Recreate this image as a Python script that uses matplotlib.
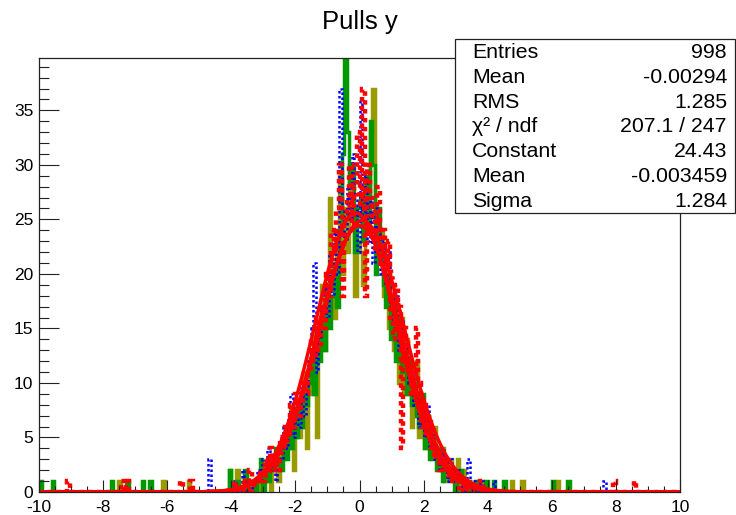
import numpy as np
import matplotlib
matplotlib.use('Agg')
import matplotlib.pyplot as plt
from matplotlib.patches import Rectangle

plt.rcParams['font.family'] = ['Liberation Sans', 'DejaVu Sans']
plt.rcParams['axes.unicode_minus'] = False

# 250 bins of width 0.08 on [-10, 10]; core counts cover [-4.0, 4.0], 10 bins per row
BIN_W = 0.08
CORE_LO = -4.0

green_core = [0, 0, 1, 0, 0, 2, 0, 1, 1, 0,
              1, 3, 0, 2, 1, 3, 2, 4, 3, 2,
              5, 3, 6, 4, 7, 5, 8, 6, 9, 8,
              10, 13, 9, 14, 12, 16, 13, 19, 15, 18,
              21, 17, 24, 31, 40, 33, 28, 30, 22, 26,
              27, 23, 29, 25, 34, 30, 20, 26, 22, 19,
              17, 20, 14, 18, 12, 16, 11, 13, 9, 12,
              8, 10, 7, 6, 9, 4, 7, 3, 5, 4,
              2, 4, 1, 3, 2, 1, 2, 0, 1, 2,
              1, 0, 1, 0, 0, 1, 0, 0, 0, 1]
olive_core = [0, 0, 2, 0, 0, 1, 0, 0, 1, 0,
              0, 1, 2, 1, 3, 0, 2, 3, 1, 4,
              3, 6, 4, 8, 2, 7, 5, 6, 11, 4,
              12, 9, 15, 5, 14, 19, 13, 17, 27, 20,
              16, 24, 29, 20, 26, 22, 30, 25, 18, 23,
              22, 19, 28, 24, 33, 37, 26, 21, 24, 18,
              20, 15, 18, 13, 17, 10, 16, 9, 14, 11,
              6, 9, 12, 5, 8, 4, 7, 5, 3, 6,
              3, 2, 4, 1, 2, 3, 2, 1, 3, 0,
              2, 0, 1, 0, 0, 0, 0, 1, 0, 0]
blue_core = [0, 1, 0, 0, 2, 0, 1, 0, 1, 1,
             2, 1, 3, 2, 4, 2, 3, 1, 4, 3,
             6, 4, 7, 9, 5, 8, 6, 10, 7, 9,
             12, 15, 21, 11, 14, 17, 19, 16, 22, 18,
             24, 20, 37, 26, 23, 28, 25, 31, 27, 22,
             36, 25, 29, 23, 27, 21, 26, 24, 20, 23,
             19, 22, 17, 15, 18, 13, 16, 12, 14, 10,
             11, 8, 9, 6, 7, 5, 8, 4, 6, 3,
             3, 2, 4, 3, 1, 3, 2, 1, 2, 1,
             0, 1, 3, 0, 1, 0, 0, 1, 0, 0]
red_core = [0, 1, 0, 0, 1, 0, 0, 2, 0, 1,
            1, 2, 1, 3, 2, 4, 2, 3, 2, 5,
            4, 6, 5, 8, 6, 9, 7, 8, 10, 9,
            11, 14, 12, 16, 13, 17, 15, 20, 18, 24,
            22, 26, 30, 18, 25, 27, 30, 24, 28, 33,
            26, 37, 18, 30, 27, 25, 22, 28, 21, 24,
            20, 23, 16, 14, 19, 17, 4, 15, 14, 12,
            9, 11, 15, 10, 6, 8, 5, 7, 4, 3,
            4, 2, 3, 3, 2, 1, 2, 1, 1, 0,
            1, 0, 1, 0, 0, 0, 0, 1, 0, 0]

# isolated entries outside the core (one entry each)
green_out = [-9.96, -9.56, -7.72, -7.24, -6.76, -6.52, -4.04, -4.04, 4.22, 4.54, 6.02, 6.5]
olive_out = [-7.5, -6.1, -5.3, -4.04, -4.04, 4.78, 5.06, 6.2]
blue_out = [-4.66, -4.66, -4.66, 4.2, 7.6]
red_out = [-9.1, -7.4, -7.2, -5.56, -5.2, 7.96, 8.6]

# gaussian fit parameters
fit_const = [24.43, 27.4, 25.6, 24.9]
fit_mean = [-0.003459, 0.05, -0.12, 0.08]
fit_sigma = [1.284, 1.22, 1.26, 1.31]
fit_style = ['-', (0, (1, 1)), '-', '-']

stat_names = ['Entries', 'Mean', 'RMS', 'χ² / ndf', 'Constant', 'Mean', 'Sigma']
stat_vals = ['998', '-0.00294', '1.285', '207.1 / 247', '24.43', '-0.003459', '1.284']

edges = np.linspace(-10, 10, 251)


def build(core, outliers):
    h = np.zeros(len(edges) - 1)
    i0 = int(round((CORE_LO + 10) / BIN_W))
    h[i0:i0 + len(core)] = core
    for x in outliers:
        h[int((x + 10) // BIN_W)] += 1
    return h


fig = plt.figure(figsize=(7.36, 5.15), dpi=100)
ax = fig.add_axes([39 / 736, 23 / 515, 641 / 736, 434 / 515])

ax.stairs(build(olive_core, olive_out), edges, baseline=0, color='#999900', lw=2.5)
ax.stairs(build(green_core, green_out), edges, baseline=0, color='#009900', lw=2.5)
ax.stairs(build(blue_core, blue_out), edges, baseline=0, color='#0000ff', lw=1.8,
          linestyle=(0, (1, 1)))
ax.stairs(build(red_core, red_out), edges, baseline=0, color='#ff0000', lw=3.2,
          linestyle=(0, (1, 1)))

xf = np.linspace(-10, 10, 2001)
for c, m, s, ls in zip(fit_const, fit_mean, fit_sigma, fit_style):
    ax.plot(xf, c * np.exp(-0.5 * ((xf - m) / s) ** 2), color='#ff0000', lw=2.5, ls=ls)

ax.set_xlim(-10, 10)
ax.set_ylim(0, 39.8)
ax.set_xticks(np.arange(-10, 11, 2))
ax.set_xticks(np.arange(-10, 10.01, 0.5), minor=True)
ax.set_yticks(np.arange(0, 36, 5))
ax.set_yticks(np.arange(0, 40, 1), minor=True)
ax.tick_params(direction='in', which='both', top=False, right=False, width=0.8,
               labelsize=12.5, color='#222222')
ax.tick_params(axis='x', which='major', length=8.6, pad=6)
ax.tick_params(axis='x', which='minor', length=4.3)
ax.tick_params(axis='y', which='major', length=14.4, pad=4)
ax.tick_params(axis='y', which='minor', length=7.2)
for sp in ax.spines.values():
    sp.set_linewidth(0.9)
    sp.set_color('#222222')

fig.text(0.489, 1 - 28.5 / 515, 'Pulls y', ha='center', va='baseline', fontsize=18.5)

# stats box
fig.patches.append(Rectangle((455 / 736, 1 - 213 / 515), 280 / 736, 174 / 515,
                             transform=fig.transFigure, facecolor='white',
                             edgecolor='#222222', lw=0.9, zorder=5))
for k, (name, val) in enumerate(zip(stat_names, stat_vals)):
    yb = 1 - (58 + 24.8 * k) / 515
    fig.text(472 / 736, yb, name, ha='left', va='baseline', fontsize=15.3, zorder=6)
    fig.text(727 / 736, yb, val, ha='right', va='baseline', fontsize=15.3, zorder=6)

fig.savefig('out.png', dpi=100)
